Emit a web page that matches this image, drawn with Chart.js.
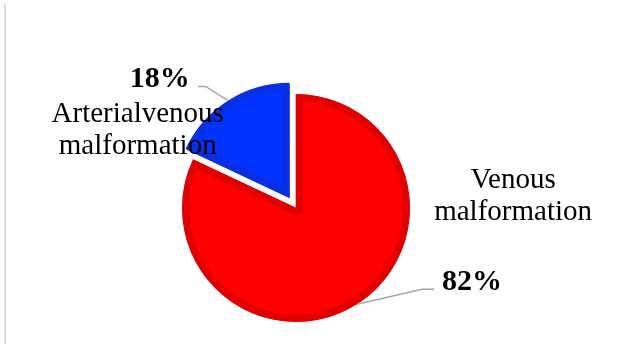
<!DOCTYPE html>
<html lang="en">
<head>
  <meta charset="UTF-8">
  <title>Malformation types</title>
  <script src="https://cdn.jsdelivr.net/npm/chart.js"></script>
  <style>
    html, body { margin: 0; padding: 0; background: #ffffff; }
    #wrap { position: relative; width: 632px; height: 346px; }
    #edge { position: absolute; left: 4px; top: 4px; width: 2px; height: 340px; background: #dcdcdc; }
    canvas { position: absolute; left: 0; top: 0; }
  </style>
</head>
<body>
  <div id="wrap">
    <div id="edge"></div>
    <canvas id="pieChart" width="632" height="346"></canvas>
  </div>

  <script>
    const categories = ['Venous malformation', 'Arterialvenous malformation'];
    const values = [82, 18];
    const fillColors = ['#ff0000', '#0033ff'];
    const edgeColors = ['#e00000', '#0a2fe0'];

    const total = values.reduce((a, b) => a + b, 0);

    // leader lines + labels, placed from each slice's outer edge at its mid angle
    const pieLabels = {
      id: 'pieLabels',
      afterDatasetsDraw(chart) {
        const ctx = chart.ctx;
        const arcs = chart.getDatasetMeta(0).data;
        arcs.forEach((arc, i) => {
          const { x, y, startAngle, endAngle, outerRadius, circumference } = arc.getProps(['x', 'y', 'startAngle', 'endAngle', 'outerRadius', 'circumference'], true);
          const mid = (startAngle + endAngle) / 2;
          const off = (arc.options.offset || 0) / 4;
          const fix = 1 - Math.sin(Math.min(Math.PI, circumference || 0));
          const shift = off + off * fix;
          const px = x + Math.cos(mid) * (outerRadius + shift);
          const py = y + Math.sin(mid) * (outerRadius + shift);
          const left = Math.cos(mid) < 0;
          const dir = left ? -1 : 1;

          const elbow = left ? [px - 22, py - 14] : [px + 65, py - 15];
          const end = left ? [px - 30, py - 14] : [px + 77, py - 15];

          ctx.save();
          ctx.strokeStyle = '#a6a6a6';
          ctx.lineWidth = 1.5;
          ctx.beginPath();
          ctx.moveTo(px, py);
          ctx.lineTo(elbow[0], elbow[1]);
          ctx.lineTo(end[0], end[1]);
          ctx.stroke();

          const pct = Math.round(values[i] / total * 100) + '%';
          ctx.fillStyle = '#000000';
          ctx.textBaseline = 'alphabetic';
          ctx.font = 'bold 30px "Liberation Serif", "Times New Roman", serif';
          ctx.textAlign = left ? 'right' : 'left';
          ctx.fillText(pct, end[0] + dir * 8, end[1] + 1);

          ctx.font = '29px "Liberation Serif", "Times New Roman", serif';
          ctx.textAlign = 'center';
          const lines = categories[i].split(' ');
          const cx = left ? px - 90 : px + 156;
          const by = left ? py + 22 : py - 116;
          lines.forEach((t, k) => ctx.fillText(t, cx, by + k * 32));
          ctx.restore();
        });
      }
    };

    new Chart(document.getElementById('pieChart').getContext('2d'), {
      type: 'pie',
      data: {
        labels: categories,
        datasets: [{
          data: values,
          backgroundColor: fillColors,
          borderColor: edgeColors,
          borderWidth: 7,
          borderAlign: 'inner',
          offset: [0, 49],
          radius: 114
        }]
      },
      options: {
        responsive: false,
        animation: false,
        devicePixelRatio: 1,
        layout: { padding: { left: 0, right: 40, top: 70, bottom: 0 } },
        plugins: {
          legend: { display: false },
          tooltip: { enabled: false }
        }
      },
      plugins: [pieLabels]
    });
  </script>
</body>
</html>
